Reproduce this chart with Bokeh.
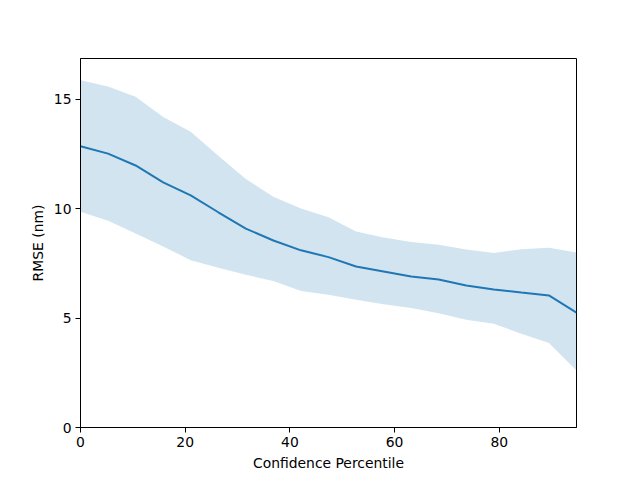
from bokeh.plotting import figure
from bokeh.models import Range1d, FixedTicker
from bokeh.embed import file_html
from bokeh.resources import INLINE

percentile = [0.0, 5.26, 10.53, 15.79, 21.05, 26.32, 31.58, 36.84, 42.11, 47.37,
              52.63, 57.89, 63.16, 68.42, 73.68, 78.95, 84.21, 89.47, 94.74]
rmse_mean = [12.86, 12.52, 11.98, 11.21, 10.61, 9.84, 9.09, 8.55, 8.10, 7.79,
             7.36, 7.13, 6.90, 6.77, 6.49, 6.31, 6.17, 6.04, 5.25]
rmse_upper = [15.87, 15.59, 15.12, 14.20, 13.52, 12.42, 11.36, 10.55, 10.01, 9.61,
              8.96, 8.69, 8.48, 8.36, 8.14, 7.98, 8.15, 8.22, 8.00]
rmse_lower = [9.86, 9.45, 8.87, 8.28, 7.65, 7.30, 6.98, 6.70, 6.24, 6.07,
              5.84, 5.64, 5.46, 5.22, 4.93, 4.74, 4.29, 3.86, 2.61]
x_ticks = [0, 20, 40, 60, 80]
y_ticks = [0, 5, 10, 15]

p = figure(output_backend="svg", toolbar_location=None,
           frame_width=496, frame_height=369,
           min_border_left=80, min_border_right=56, min_border_top=58, min_border_bottom=45,
           x_range=Range1d(0, 94.74), y_range=Range1d(0, 16.87))

p.varea(x=percentile, y1=rmse_lower, y2=rmse_upper, fill_color="#1f77b4", fill_alpha=0.2)
p.line(x=percentile, y=rmse_mean, line_color="#1f77b4", line_width=2)

p.xgrid.visible = False
p.ygrid.visible = False
p.outline_line_color = "black"
p.outline_line_width = 1
p.outline_line_alpha = 1

p.xaxis.ticker = FixedTicker(ticks=x_ticks)
p.yaxis.ticker = FixedTicker(ticks=y_ticks)
p.xaxis.axis_label = "Confidence Percentile"
p.yaxis.axis_label = "RMSE (nm)"
for ax in (p.xaxis[0], p.yaxis[0]):
    ax.axis_label_text_font = "DejaVu Sans"
    ax.axis_label_text_font_size = "13.9px"
    ax.axis_label_text_font_style = "normal"
    ax.axis_label_text_color = "black"
    ax.axis_label_standoff = 5
    ax.major_label_text_font = "DejaVu Sans"
    ax.major_label_text_font_size = "13.9px"
    ax.major_label_text_color = "black"
    ax.major_tick_out = 5
    ax.major_tick_in = 0
    ax.minor_tick_out = 0
    ax.minor_tick_in = 0
    ax.axis_line_color = "black"
    ax.major_tick_line_color = "black"
    ax.major_label_standoff = 4
p.yaxis.major_label_orientation = "horizontal"

open("out.html", "w").write(file_html(p, INLINE))
